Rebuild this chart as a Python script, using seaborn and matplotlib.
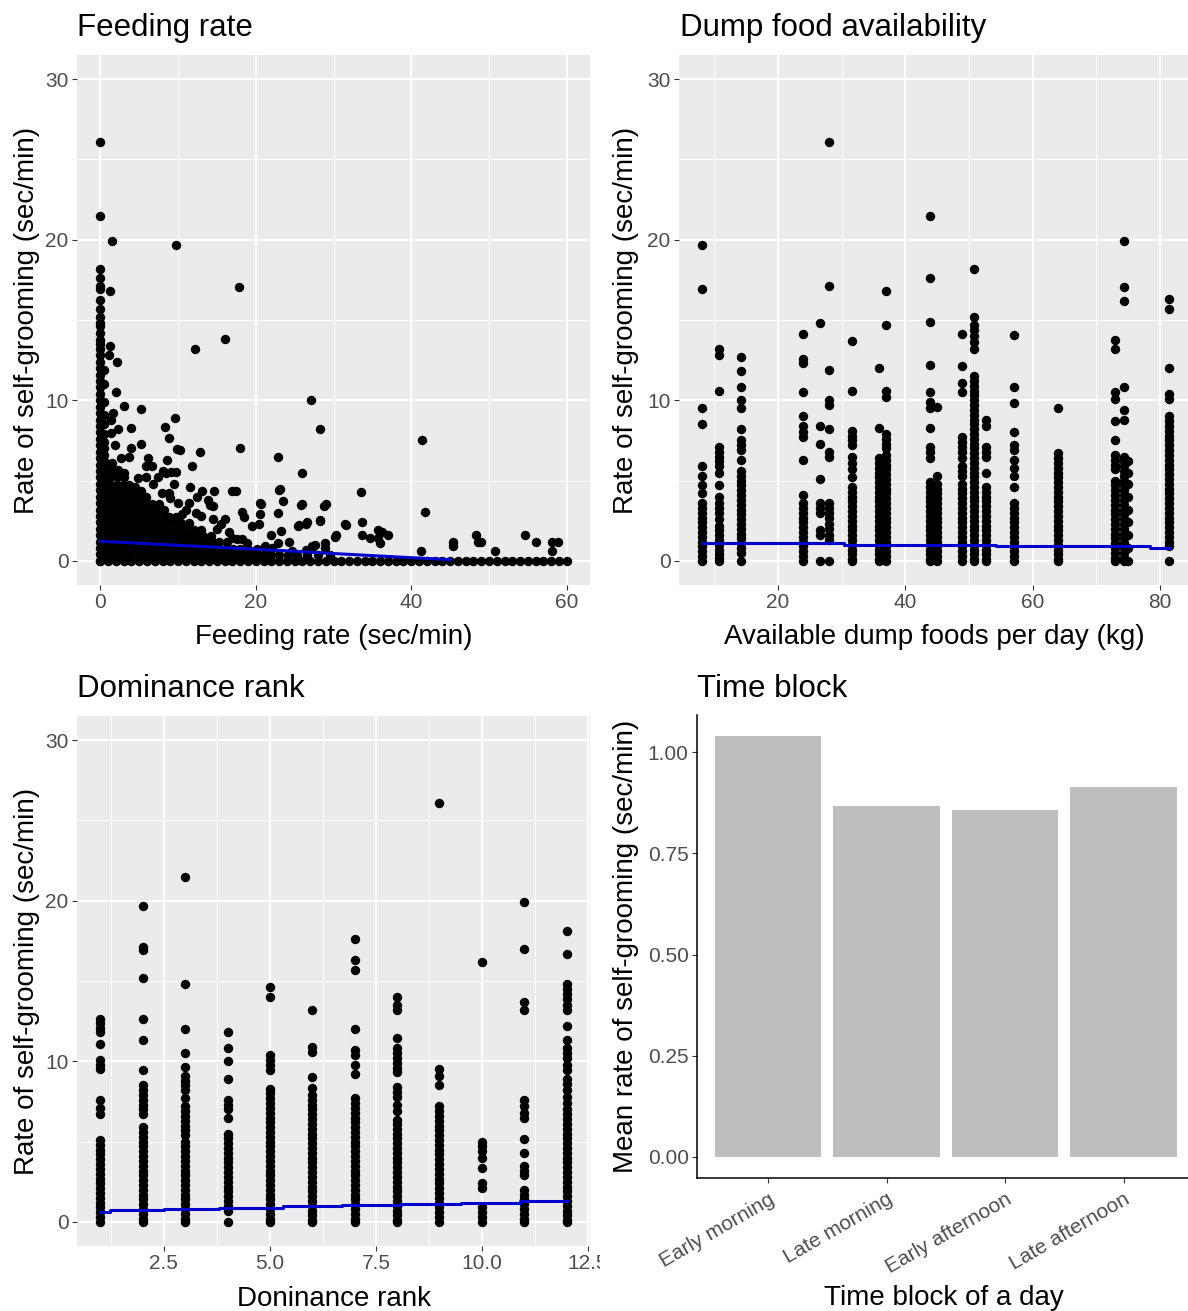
import matplotlib
matplotlib.use("Agg")
import matplotlib.pyplot as plt
import pandas as pd
import seaborn as sns
from matplotlib.transforms import Bbox, TransformedBbox

plt.rcParams['font.family'] = ['Liberation Sans', 'DejaVu Sans']

W, H = 1188, 1311

# ======================= DATA =======================
# --- Panel 1: feeding rate (sec/min) vs self-grooming rate (sec/min)
feed_col0_groom = [0, 0.4, 0.8, 1.2, 1.6, 2.0, 2.4, 2.8, 3.2, 3.6, 4.0, 4.4, 4.8, 5.2, 5.6, 6.0,
                   6.4, 6.8, 7.2, 7.6, 8.0, 8.4, 8.8, 9.2, 9.6, 10.0, 10.4, 10.8, 11.2, 11.6, 12.0,
                   12.4, 12.8, 13.2, 13.5, 13.75, 14.2, 14.6, 14.8, 15.2, 15.7, 16.25, 16.9, 17.1,
                   17.6, 18.15, 21.5, 26.1]
feed_col05_groom = [0.2, 0.6, 1.0, 1.4, 1.8, 2.2, 2.6, 3.0, 3.4, 3.8, 4.2, 4.6, 5.0, 5.4, 5.8,
                    6.2, 6.6, 7.0, 7.4, 7.9, 8.5, 9.1, 9.9, 11.0, 11.9]
feed_zero_row = [0, 1, 2, 3, 4, 5, 6, 7, 8, 9, 10, 11, 12, 13, 14, 15, 16, 17, 18, 19, 20, 21, 22,
                 23, 24, 25, 26, 27, 28, 29, 30, 31, 32, 33, 34, 35, 36, 37, 38, 39, 40, 41, 42, 43,
                 44, 45, 46, 47, 48, 49, 50, 51, 52, 53, 54, 55, 56, 57, 58, 59, 60]
feed_dense_groom = [0.35, 0.75, 1.15, 1.55, 1.95, 2.35, 2.75, 3.15, 3.55, 3.95, 4.35, 4.75, 5.2, 5.65, 6.1]
feed_dense_rates = [
    [0.6, 1.3, 2.0, 2.7, 3.4, 4.1, 4.8, 5.5, 6.2, 6.9, 7.6, 8.3, 9.0, 9.7, 10.4, 11.1, 11.8, 12.5,
     13.2, 13.9, 14.6, 15.3, 16.0, 16.7, 17.4, 18.1, 18.8, 19.5, 20.3, 21.1, 22.0, 23.0, 24.1, 25.3, 26.6, 28.0, 29.6],
    [0.6, 1.3, 2.0, 2.7, 3.4, 4.1, 4.8, 5.5, 6.2, 6.9, 7.6, 8.3, 9.0, 9.7, 10.4, 11.1, 11.8, 12.5,
     13.2, 13.9, 14.6, 15.4, 16.2, 17.1, 18.0, 19.0, 20.1, 21.3],
    [0.6, 1.3, 2.0, 2.7, 3.4, 4.1, 4.8, 5.5, 6.2, 6.9, 7.6, 8.3, 9.0, 9.7, 10.4, 11.1, 11.9, 12.7,
     13.5, 14.4, 15.3, 16.3],
    [0.6, 1.3, 2.0, 2.7, 3.4, 4.1, 4.8, 5.5, 6.2, 6.9, 7.6, 8.3, 9.0, 9.8, 10.6, 11.4, 12.3, 13.2, 14.2],
    [0.6, 1.3, 2.0, 2.7, 3.4, 4.1, 4.8, 5.5, 6.2, 6.9, 7.7, 8.5, 9.3, 10.1, 11.0, 12.0, 13.0],
    [0.6, 1.3, 2.0, 2.7, 3.4, 4.1, 4.8, 5.5, 6.2, 7.0, 7.8, 8.6, 9.5, 10.4, 11.4],
    [0.6, 1.3, 2.0, 2.7, 3.4, 4.1, 4.8, 5.6, 6.4, 7.2, 8.0, 8.9, 9.8],
    [0.6, 1.3, 2.0, 2.7, 3.4, 4.1, 4.9, 5.7, 6.5, 7.3, 8.2],
    [0.6, 1.3, 2.0, 2.7, 3.4, 4.2, 5.0, 5.8, 6.7, 7.5],
    [0.6, 1.3, 2.0, 2.7, 3.5, 4.3, 5.1, 5.9],
    [0.6, 1.3, 2.0, 2.8, 3.6, 4.4, 5.2],
    [0.6, 1.3, 2.1, 2.9, 3.7],
    [0.6, 1.4, 2.2, 3.0],
    [0.6, 1.4, 2.3],
    [0.6, 1.5],
]
feed_sparse_rate = [1.45, 9.7, 17.9, 1.3, 16.0, 12.2, 1.1, 2.2, 1.3, 27.1, 28.2, 41.4, 41.8, 33.5,
                    22.9, 25.9, 23.0, 18.0, 12.8, 9.9, 10.3, 9.6, 8.3, 8.8, 5.2, 3.0, 2.0, 3.9, 2.3,
                    5.2, 3.9, 1.6, 1.4, 1.4, 1.9, 2.6, 3.7, 6.1, 8.6, 5.9, 6.7, 11.8, 8.0, 9.1, 9.8,
                    3.1, 4.8, 5.9, 7.4, 8.4, 11.6, 13.1, 14.6, 16.9, 17.4, 23.1, 4.5, 6.8, 7.9, 8.8,
                    9.5, 12.4, 13.8, 11.4, 14.1, 12.3, 14.5, 20.7, 23.5, 26.0, 29.0, 20.5, 28.8, 25.8,
                    16.0, 18.2, 18.5, 20.5, 22.8, 23.2, 25.6, 26.6, 28.3, 19.5, 20.4, 31.5, 33.7, 28.2,
                    26.4, 25.4, 31.6, 30.3, 33.7, 34.7, 35.7, 36.3, 35.7, 36.0, 37.0, 21.9, 24.3, 22.9,
                    27.2, 27.6, 28.9, 30.2, 17.0, 17.6, 18.2, 18.9, 21.2, 22.1, 24.7, 26.4, 28.9, 27.2,
                    41.2, 45.4, 45.4, 48.3, 48.6, 49.0, 50.8, 54.7, 56.1, 58.1, 58.1, 58.9,
                    15.0, 15.5, 16.5, 14.5, 13.0, 11.0, 10.5, 10.0, 9.0]
feed_sparse_groom = [19.9, 19.7, 17.05, 16.8, 13.8, 13.2, 12.8, 12.4, 13.4, 10.0, 8.2, 7.55, 3.07, 4.3,
                     6.45, 5.45, 4.4, 7.0, 6.75, 6.97, 6.9, 8.9, 8.35, 7.65, 9.45, 9.65, 10.5, 8.25, 8.2,
                     7.25, 7.0, 9.2, 8.8, 7.95, 7.2, 6.4, 6.5, 6.4, 6.3, 5.9, 5.9, 5.9, 5.6, 5.55, 5.55,
                     5.45, 5.15, 5.25, 5.25, 5.45, 4.6, 4.35, 4.35, 4.35, 4.35, 4.45, 4.6, 4.8, 4.2, 4.2,
                     4.8, 4.0, 3.8, 3.6, 3.5, 3.0, 3.4, 3.55, 3.7, 3.55, 3.55, 3.6, 3.4, 3.5,
                     2.6, 3.05, 2.75, 2.95, 3.0, 1.85, 2.25, 2.4, 2.55, 2.15, 2.3, 2.3, 2.4, 2.5,
                     2.3, 2.2, 2.25, 1.6, 1.6, 1.4, 1.9, 1.8, 1.45, 1.1, 1.6, 1.6, 1.15, 1.1,
                     0.9, 1.0, 1.1, 1.5, 1.4, 1.35, 1.35, 1.1, 0.9, 0.8, 0.6, 0.7, 0.8, 0.8,
                     0.6, 0.9, 1.15, 1.6, 1.15, 1.15, 0.6, 1.6, 1.15, 1.15, 0.6, 1.15,
                     2.0, 2.3, 1.8, 2.6, 2.8, 3.2, 2.9, 3.6, 3.9]
feed_fit_rate = [0, 5, 10, 15, 20, 25, 30, 35, 40, 45]
feed_fit_groom = [1.22, 1.1, 0.97, 0.85, 0.73, 0.6, 0.46, 0.33, 0.2, 0.08]

# --- Panel 2: available dump foods per day (kg)
dump_kg = [8.0, 10.8, 14.2, 24.0, 26.6, 28.0, 31.7, 35.8, 37.0, 43.9, 44.9, 48.9, 50.8, 52.6,
           57.0, 64.0, 72.9, 74.3, 75.0, 81.4]
dump_groom = [
    [19.7, 16.9, 9.5, 8.5, 5.9, 5.3, 4.7, 4.2, 3.6, 3.3, 3.0, 2.7, 2.4, 2.1, 1.8, 1.5, 1.2, 0.9, 0.6, 0.3, 0],
    [13.2, 12.8, 10.6, 7.1, 6.8, 6.5, 6.2, 5.9, 5.5, 4.7, 4.0, 3.6, 3.3, 3.0, 2.6, 2.2, 1.9, 1.6, 1.3, 1.0, 0.7, 0.4, 0.2, 0],
    [12.7, 11.8, 10.8, 10.0, 9.5, 8.2, 7.5, 7.2, 6.9, 6.3, 5.6, 5.3, 5.0, 4.7, 4.4, 4.1, 3.8, 3.5, 3.2, 2.9, 2.6, 2.3, 2.0, 1.7, 1.4, 1.1, 0.8, 0.5, 0],
    [14.1, 12.6, 12.3, 10.5, 9.0, 8.4, 8.0, 7.7, 6.3, 4.1, 3.6, 3.3, 3.0, 2.7, 2.4, 2.1, 1.8, 1.5, 1.2, 0.9, 0.6, 0.3, 0],
    [14.8, 8.4, 7.3, 5.1, 3.6, 3.3, 3.0, 1.9, 1.6, 0],
    [26.1, 17.1, 11.9, 10.0, 9.7, 8.2, 6.8, 6.5, 3.6, 3.3, 3.0, 2.7, 2.3, 2.0, 1.6, 1.3, 0],
    [13.7, 10.6, 8.1, 7.8, 7.5, 7.2, 6.5, 6.1, 5.7, 5.2, 4.6, 4.3, 4.0, 3.7, 3.4, 3.1, 2.8, 2.5, 2.2, 1.9, 1.6, 1.3, 1.0, 0.7, 0.4, 0.1, 0],
    [12.0, 8.3, 6.4, 6.1, 5.8, 5.5, 5.2, 4.9, 4.6, 4.3, 4.0, 3.7, 3.4, 3.1, 2.8, 2.5, 2.2, 1.9, 1.6, 1.3, 1.0, 0.7, 0.4, 0.1, 0],
    [16.8, 14.7, 10.6, 10.2, 7.9, 7.6, 7.3, 7.0, 6.6, 6.3, 6.0, 5.7, 5.4, 5.1, 4.8, 4.5, 4.2, 3.9, 3.6, 3.3, 3.0, 2.7, 2.4, 2.1, 1.8, 1.5, 1.2, 0.9, 0.6, 0.3, 0],
    [21.5, 17.6, 14.85, 12.2, 10.5, 9.9, 9.5, 8.3, 7.1, 6.8, 6.4, 4.9, 4.6, 4.3, 4.0, 3.7, 3.4, 3.1, 2.8, 2.5, 2.2, 1.9, 1.6, 1.3, 1.0, 0.7, 0.4, 0.1, 0],
    [9.6, 5.3, 4.8, 4.5, 4.2, 3.9, 3.6, 3.3, 3.0, 2.7, 2.4, 2.1, 1.8, 1.5, 1.2, 0.9, 0.6, 0.3, 0],
    [14.1, 12.15, 11.1, 10.5, 7.7, 7.4, 7.1, 6.8, 6.4, 5.9, 5.6, 5.3, 4.8, 4.5, 4.2, 3.9, 3.6, 3.3, 3.0, 2.7, 2.4, 2.1, 1.8, 1.5, 1.2, 0.9, 0.6, 0.3, 0],
    [18.15, 15.2, 14.7, 14.4, 14.0, 13.6, 13.2, 11.5, 11.2, 10.9, 10.6, 10.3, 10.0, 9.7, 9.4, 9.1, 8.8, 8.5, 8.2,
     7.9, 7.6, 7.3, 7.0, 6.7, 6.4, 6.1, 5.8, 5.5, 5.2, 4.9, 4.6, 4.3, 4.0, 3.7, 3.4, 3.1, 2.8, 2.5, 2.2, 1.9,
     1.6, 1.3, 1.0, 0.7, 0.4, 0.1, 0],
    [8.8, 8.4, 7.1, 6.8, 6.5, 5.45, 4.6, 4.3, 4.0, 3.7, 3.4, 3.1, 2.8, 2.5, 2.2, 1.9, 1.6, 1.3, 1.0, 0.7, 0.4, 0.1, 0],
    [14.05, 10.85, 9.85, 8.05, 7.2, 6.9, 6.3, 5.8, 5.3, 4.6, 3.6, 3.3, 3.0, 2.7, 2.4, 2.1, 1.8, 1.5, 1.2, 0.9, 0.6, 0.3, 0],
    [9.55, 6.7, 6.4, 6.1, 5.8, 5.5, 5.2, 4.9, 4.6, 4.3, 4.0, 3.7, 3.4, 3.1, 2.8, 2.5, 2.2, 1.9, 1.6, 1.3, 1.0, 0.7, 0.4, 0.1, 0],
    [13.75, 13.2, 10.5, 10.1, 8.7, 7.5, 6.6, 6.3, 6.0, 5.7, 5.0, 4.7, 4.4, 4.1, 3.8, 3.5, 3.2, 2.9, 2.6, 2.3, 2.0, 1.7, 1.4, 1.1, 0.8, 0.5, 0.2, 0],
    [19.9, 17.05, 16.2, 10.8, 9.4, 8.8, 6.5, 6.2, 5.9, 5.6, 5.3, 5.0, 4.7, 4.4, 4.1, 3.8, 3.5, 3.2, 2.9, 2.6, 2.3, 2.0, 1.7, 1.4, 1.1, 0.8, 0.5, 0.2, 0],
    [6.2, 5.5, 4.8, 4.0, 3.2, 2.4, 1.6, 0.8, 0],
    [16.3, 15.7, 12.0, 10.4, 10.1, 9.0, 8.7, 8.4, 8.1, 7.8, 7.5, 7.2, 6.9, 6.6, 6.3, 6.0, 5.7, 5.4, 5.1, 4.8,
     4.5, 4.2, 3.9, 3.6, 3.3, 3.0, 2.7, 2.4, 2.1, 1.8, 1.5, 1.2, 0.9, 0],
]
dump_fit_kg = [8.0, 30.3, 30.3, 54.3, 54.3, 78.5, 78.5, 81.4]
dump_fit_groom = [1.12, 1.12, 1.02, 1.02, 0.9, 0.9, 0.8, 0.8]

# --- Panel 3: dominance rank
rank_levels = [1, 2, 3, 4, 5, 6, 7, 8, 9, 10, 11, 12]
rank_groom = [
    [12.65, 12.4, 12.1, 11.8, 11.1, 10.1, 9.8, 9.55, 7.6, 7.1, 6.7, 5.1, 4.8, 4.5, 4.2, 3.9, 3.6, 3.3, 3.0, 2.7, 2.4, 2.1, 1.8, 1.5, 1.2, 0.9, 0.6, 0.3, 0],
    [19.7, 17.1, 16.9, 15.2, 12.65, 11.3, 9.45, 8.5, 8.2, 7.9, 7.6, 7.3, 7.0, 6.7, 5.9, 5.6, 5.3, 5.0, 4.7, 4.4, 4.1, 3.8, 3.5, 3.2, 2.9, 2.6, 2.3, 2.0, 1.7, 1.4, 1.1, 0.8, 0.5, 0.2, 0],
    [21.5, 14.8, 12.0, 10.5, 9.65, 9.1, 8.8, 8.5, 8.2, 7.7, 7.2, 6.9, 6.6, 6.3, 6.0, 5.7, 5.4, 5.0, 4.7, 4.4, 4.1, 3.8, 3.5, 3.2, 2.9, 2.6, 2.3, 2.0, 1.7, 1.4, 1.1, 0.8, 0.5, 0.2, 0],
    [11.8, 10.8, 10.0, 8.9, 7.6, 7.3, 7.0, 6.5, 5.5, 5.2, 4.9, 4.6, 4.3, 4.0, 3.7, 3.4, 3.1, 2.8, 2.5, 2.2, 1.9, 1.6, 1.3, 1.0, 0.7, 0],
    [14.65, 14.0, 10.4, 10.1, 9.8, 9.45, 8.3, 8.0, 7.7, 7.4, 7.1, 6.8, 6.5, 6.2, 5.9, 5.6, 5.3, 5.0, 4.7, 4.4, 4.1, 3.8, 3.5, 3.2, 2.9, 2.6, 2.3, 2.0, 1.7, 1.4, 1.1, 0.8, 0.5, 0.2, 0],
    [13.2, 10.9, 10.6, 9.0, 8.35, 7.9, 7.6, 7.3, 7.0, 6.7, 6.4, 6.1, 5.8, 5.5, 5.2, 4.9, 4.6, 4.3, 4.0, 3.7, 3.4, 3.1, 2.8, 2.5, 2.2, 1.9, 1.6, 1.3, 1.0, 0.7, 0.4, 0.1, 0],
    [17.6, 16.3, 15.7, 12.0, 10.7, 10.4, 9.8, 9.2, 7.7, 7.4, 7.1, 6.8, 6.5, 6.2, 5.9, 5.6, 5.3, 5.0, 4.7, 4.4, 4.1, 3.8, 3.5, 3.2, 2.9, 2.6, 2.3, 2.0, 1.7, 1.4, 1.1, 0.8, 0.5, 0.2, 0],
    [14.0, 13.5, 13.2, 11.45, 10.8, 10.5, 10.2, 9.9, 9.6, 9.35, 8.4, 8.1, 7.8, 7.3, 6.9, 6.35, 6.1, 5.8, 5.5, 5.2, 4.9, 4.6, 4.3, 4.0, 3.7, 3.4, 3.1, 2.8, 2.5, 2.2, 1.9, 1.6, 1.3, 1.0, 0.7, 0.4, 0.1, 0],
    [26.1, 9.5, 9.1, 8.5, 7.2, 6.9, 6.6, 6.3, 6.0, 5.7, 5.4, 5.1, 4.8, 4.5, 4.2, 3.9, 3.6, 3.3, 3.0, 2.7, 2.4, 2.1, 1.8, 1.5, 1.2, 0.9, 0.6, 0.3, 0],
    [16.2, 5.0, 4.7, 4.4, 3.95, 3.35, 2.4, 2.1, 0.95, 0.6, 0.3, 0],
    [19.9, 17.0, 13.7, 13.2, 7.6, 7.2, 6.8, 6.45, 5.15, 4.3, 3.5, 3.2, 2.9, 2.0, 1.7, 1.4, 1.1, 0.8, 0.5, 0.2, 0],
    [18.1, 16.7, 14.8, 14.5, 14.2, 13.9, 13.5, 13.2, 12.2, 11.3, 10.8, 10.5, 10.2, 9.8, 9.45, 8.9, 8.6, 8.2, 7.8, 7.4,
     7.0, 6.7, 6.4, 6.1, 5.8, 5.5, 5.2, 4.9, 4.6, 4.3, 4.0, 3.7, 3.4, 3.1, 2.8, 2.5, 2.2, 1.9, 1.6, 1.3, 1.0, 0.7, 0.4, 0.1, 0],
]
rank_fit_x = [1, 1.23, 1.23, 2.5, 2.5, 3.8, 3.8, 5.3, 5.3, 6.7, 6.7, 8.1, 8.1, 9.5, 9.5, 10.9, 10.9, 12]
rank_fit_y = [0.62, 0.62, 0.72, 0.72, 0.8, 0.8, 0.88, 0.88, 0.96, 0.96, 1.04, 1.04, 1.12, 1.12, 1.2, 1.2, 1.32, 1.32]

# --- Panel 4: time block means
time_blocks = ["Early morning", "Late morning", "Early afternoon", "Late afternoon"]
time_means = [1.04, 0.867, 0.857, 0.913]

# ======================= FRAMES =======================
feed_df = pd.DataFrame({
    "rate": [0.0] * len(feed_col0_groom) + [0.45] * len(feed_col05_groom) + list(feed_zero_row)
            + [r for row in feed_dense_rates for r in row] + feed_sparse_rate,
    "groom": feed_col0_groom + feed_col05_groom + [0.0] * len(feed_zero_row)
             + [g for g, row in zip(feed_dense_groom, feed_dense_rates) for _ in row] + feed_sparse_groom,
})
feed_fit = pd.DataFrame({"rate": feed_fit_rate, "groom": feed_fit_groom})

dump_df = pd.DataFrame({
    "kg": [k for k, vals in zip(dump_kg, dump_groom) for _ in vals],
    "groom": [v for vals in dump_groom for v in vals],
})
dump_fit = pd.DataFrame({"kg": dump_fit_kg, "groom": dump_fit_groom})

rank_df = pd.DataFrame({
    "rank": [r for r, vals in zip(rank_levels, rank_groom) for _ in vals],
    "groom": [v for vals in rank_groom for v in vals],
})
rank_fit = pd.DataFrame({"rank": rank_fit_x, "groom": rank_fit_y})

time_df = pd.DataFrame({"block": time_blocks, "mean": time_means})

# ======================= FIGURE =======================
fig = plt.figure(figsize=(W / 100, H / 100), dpi=100)


def px_axes(l, t, r, b):
    return fig.add_axes([l / W, 1 - b / H, (r - l) / W, (b - t) / H])


TICK_FS = 15
LAB_FS = 20
TITLE_FS = 22.5
TICK_COL = "#4D4D4D"
PT_SIZE = 46
LINE_COL = "#0000CC"


def gg_panel(ax, xlim, ylim, xmaj, xlabels, xmin, ymaj, ymin):
    ax.set_facecolor("#EBEBEB")
    ax.set_xlim(xlim)
    ax.set_ylim(ylim)
    ax.set_xticks(xmaj)
    ax.set_xticklabels(xlabels)
    ax.set_yticks(ymaj)
    ax.set_yticklabels([str(v) for v in ymaj])
    ax.set_xticks(xmin, minor=True)
    ax.set_yticks(ymin, minor=True)
    ax.grid(which="major", color="white", lw=1.4)
    ax.grid(which="minor", color="white", lw=0.7)
    ax.set_axisbelow(True)
    for s in ax.spines.values():
        s.set_visible(False)
    ax.tick_params(which="major", length=3.5, width=0.8, color="#333333",
                   labelsize=TICK_FS, labelcolor=TICK_COL, pad=2.5)
    ax.tick_params(which="minor", length=0)
    ax.set_xlabel("")
    ax.set_ylabel("")


def scatter_panel(ax, df, x, y, fit, fx):
    sns.scatterplot(data=df, x=x, y=y, ax=ax, color="black", s=PT_SIZE, linewidth=0,
                    zorder=2, legend=False)
    sns.lineplot(data=fit, x=fx, y="groom", ax=ax, color=LINE_COL, lw=2.2, sort=False,
                 estimator=None, zorder=3)


# Panel 1
ax1 = px_axes(77, 55, 590, 585)
scatter_panel(ax1, feed_df, "rate", "groom", feed_fit, "rate")
gg_panel(ax1, (-3, 63), (-1.5, 31.5), [0, 20, 40, 60], ["0", "20", "40", "60"], [10, 30, 50],
         [0, 10, 20, 30], [5, 15, 25])

# Panel 2
ax2 = px_axes(679, 55, 1188, 585)
scatter_panel(ax2, dump_df, "kg", "groom", dump_fit, "kg")
gg_panel(ax2, (4.45, 84.4), (-1.5, 31.5), [20, 40, 60, 80], ["20", "40", "60", "80"], [10, 30, 50, 70],
         [0, 10, 20, 30], [5, 15, 25])

# Panel 3
ax3 = px_axes(77, 716, 590, 1246)
scatter_panel(ax3, rank_df, "rank", "groom", rank_fit, "rank")
gg_panel(ax3, (0.45, 12.55), (-1.5, 31.5), [2.5, 5.0, 7.5, 10.0, 12.5],
         ["2.5", "5.0", "7.5", "10.0", "12.5"], [1.25, 3.75, 6.25, 8.75, 11.25],
         [0, 10, 20, 30], [5, 15, 25])
clip = TransformedBbox(Bbox([[0, 0], [600 / W, 1]]), fig.transFigure)
for lbl in ax3.get_xticklabels():
    lbl.set_clip_box(clip)
    lbl.set_clip_on(True)

# Panel 4
ax4 = px_axes(697, 715, 1194.7, 1178)
sns.barplot(data=time_df, x="block", y="mean", order=time_blocks, color="#BEBEBE", saturation=1,
            width=0.9, errorbar=None, ax=ax4)
ax4.set_xlim(-0.6, 3.6)
ax4.set_ylim(-0.052, 1.092)
ax4.set_facecolor("white")
ax4.set_yticks([0, 0.25, 0.5, 0.75, 1.0])
ax4.set_yticklabels(["0.00", "0.25", "0.50", "0.75", "1.00"])
ax4.set_xticks([0, 1, 2, 3])
ax4.set_xticklabels(time_blocks, rotation=30, ha="right", rotation_mode="anchor")
for s in ["top", "right"]:
    ax4.spines[s].set_visible(False)
for s in ["left", "bottom"]:
    ax4.spines[s].set_color("black")
    ax4.spines[s].set_linewidth(1.1)
ax4.tick_params(length=3.5, width=0.8, color="#333333", labelsize=TICK_FS, labelcolor=TICK_COL, pad=2.5)
ax4.tick_params(axis="x", pad=5)
ax4.set_xlabel("")
ax4.set_ylabel("")

# ======================= TEXT =======================
def ftext(x, y, s, **kw):
    fig.text(x / W, 1 - y / H, s, **kw)


ftext(77, 36, "Feeding rate", fontsize=TITLE_FS, ha="left", va="baseline")
ftext(680, 36, "Dump food availability", fontsize=TITLE_FS, ha="left", va="baseline")
ftext(77, 697, "Dominance rank", fontsize=TITLE_FS, ha="left", va="baseline")
ftext(697, 697, "Time block", fontsize=TITLE_FS, ha="left", va="baseline")

ftext(334, 644, "Feeding rate (sec/min)", fontsize=LAB_FS, ha="center", va="baseline")
ftext(934, 644, "Available dump foods per day (kg)", fontsize=LAB_FS, ha="center", va="baseline")
ftext(334, 1306, "Doninance rank", fontsize=LAB_FS, ha="center", va="baseline")
ftext(944, 1305, "Time block of a day", fontsize=LAB_FS, ha="center", va="baseline")

ylab = "Rate of self-grooming (sec/min)"
ftext(27, 320, ylab, fontsize=LAB_FS, rotation=90, ha="center", va="center")
ftext(626, 320, ylab, fontsize=LAB_FS, rotation=90, ha="center", va="center")
ftext(27, 981, ylab, fontsize=LAB_FS, rotation=90, ha="center", va="center")
ftext(626, 946, "Mean rate of self-grooming (sec/min)", fontsize=LAB_FS, rotation=90,
      ha="center", va="center")

fig.savefig("out.png", dpi=100, facecolor="white")
